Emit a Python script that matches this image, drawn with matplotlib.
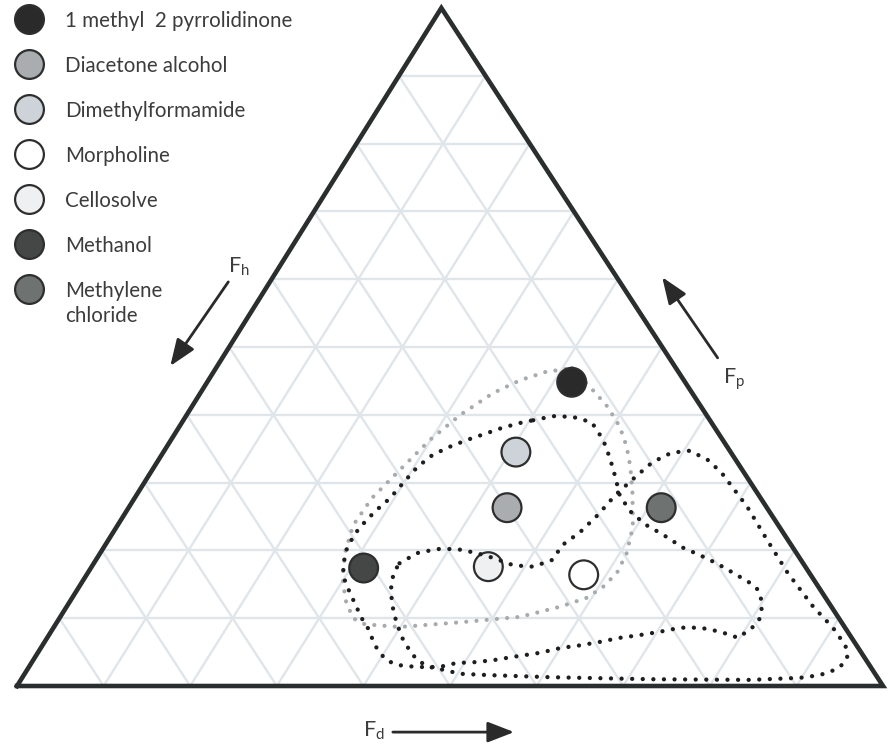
import numpy as np
import matplotlib.pyplot as plt

plt.rcParams['font.family'] = ['Lato', 'DejaVu Sans']
plt.rcParams['mathtext.fontset'] = 'custom'
plt.rcParams['mathtext.rm'] = 'Lato'

# solvents, fractional solubility parameters in percent (Fh = 100 - Fd - Fp)
solvents = ['1 methyl  2 pyrrolidinone', 'Diacetone alcohol', 'Dimethylformamide',
            'Morpholine', 'Cellosolve', 'Methanol', 'Methylene\nchloride']
fd = [42.1, 43.7, 40.7, 57.4, 45.8, 31.5, 61.5]
fp = [44.8, 26.3, 34.5, 16.4, 17.6, 17.4, 26.3]
fills = ['#2a2a2a', '#a9adaf', '#cdd3d8', '#ffffff', '#eef0f2', '#454747', '#6e7271']

# solubility regions drawn as dotted outlines, (Fd, Fp) pairs
region_light = [(41.1, 46.9), (45.4, 43.4), (48.0, 41.2), (50.9, 38.2), (53.1, 35.3),
                (55.0, 32.3), (57.1, 28.5), (59.6, 23.5), (60.8, 19.6), (61.1, 16.7),
                (60.5, 14.6), (59.4, 13.0), (57.0, 11.7), (53.1, 10.2), (46.6, 9.4),
                (39.9, 8.7), (35.7, 9.1), (33.9, 10.0), (31.7, 12.7), (29.7, 16.1),
                (28.2, 19.8), (27.2, 23.7), (27.4, 27.7), (28.6, 31.9), (29.9, 36.3),
                (31.6, 40.0), (33.8, 43.2), (36.0, 45.1), (38.3, 46.3)]

region_upper = [(40.4, 39.2), (42.4, 39.8), (44.7, 39.7), (47.3, 38.9), (49.9, 36.3),
                (52.0, 33.6), (54.0, 30.8), (55.9, 28.0), (58.5, 25.5), (61.1, 23.7),
                (63.7, 22.3), (66.9, 20.4), (69.4, 19.3), (71.9, 18.1), (74.5, 16.7),
                (77.2, 15.2), (78.6, 14.2), (80.1, 12.2), (80.9, 10.0), (80.7, 8.7),
                (79.8, 7.1), (77.3, 8.0), (74.7, 8.6), (72.4, 8.6), (70.3, 8.0),
                (68.2, 7.5), (66.1, 7.1), (64.1, 6.5), (62.1, 6.0), (60.0, 5.6),
                (58.0, 4.9), (55.2, 4.3), (53.1, 3.8), (51.0, 3.5), (49.1, 3.4),
                (47.4, 2.8), (44.8, 2.8), (42.4, 3.1), (40.8, 3.8), (39.5, 4.9),
                (38.4, 6.0), (36.2, 8.7), (34.9, 10.0), (32.6, 12.7), (30.4, 15.3),
                (29.0, 17.6), (28.2, 20.1), (28.0, 22.3), (28.2, 23.7), (28.7, 25.7),
                (29.5, 27.7), (29.9, 29.9), (30.4, 32.3), (31.3, 34.1), (32.7, 35.3),
                (34.2, 36.3), (36.0, 37.3), (37.4, 38.1), (39.1, 38.8)]

region_lower = [(35.3, 18.1), (36.6, 19.6), (38.6, 20.2), (40.9, 20.2), (43.5, 19.6),
                (45.7, 18.9), (48.6, 17.8), (51.0, 17.6), (52.7, 18.6), (52.8, 20.8),
                (53.9, 22.7), (54.7, 25.2), (55.3, 28.2), (56.4, 31.1), (57.2, 33.0),
                (58.7, 34.4), (60.7, 34.7), (63.5, 33.3), (66.0, 31.4), (68.7, 28.9),
                (71.4, 26.4), (76.1, 21.5), (80.8, 16.7), (86.2, 11.7), (90.0, 8.6),
                (92.7, 6.0), (93.7, 4.6), (93.9, 3.4), (93.3, 2.4), (91.9, 1.6),
                (89.8, 1.2), (84.2, 0.9), (72.6, 1.0), (60.9, 1.3), (53.8, 1.6),
                (50.3, 1.8), (48.0, 2.4), (46.3, 2.8), (44.5, 3.7), (43.0, 5.0),
                (41.0, 7.1), (39.2, 9.4), (37.3, 12.2), (36.1, 14.5), (35.3, 16.7)]

grid_steps = np.arange(10, 100, 10)

APEX = 0.49  # horizontal position of the Fp corner along the base


def to_xy(d, p):
    d = np.asarray(d, dtype=float)
    p = np.asarray(p, dtype=float)
    return d + APEX * p, p


def closed(region):
    pts = np.array(region + region[:1])
    return to_xy(pts[:, 0], pts[:, 1])


fig = plt.figure(figsize=(8.91, 7.48), dpi=100)
ax = fig.add_axes([0, 0, 1, 1])
ax.set_xlim(-1.963, 100.92)
ax.set_ylim(-9.145, 101.18)
ax.axis('off')

grid_kw = dict(color='#e0e5ea', lw=1.7, zorder=1, solid_capstyle='butt')
for f in grid_steps:
    ax.plot(*to_xy([0, 100 - f], [f, f]), **grid_kw)          # constant Fp
    ax.plot(*to_xy([f, f], [0, 100 - f]), **grid_kw)          # constant Fd
    ax.plot(*to_xy([100 - f, 0], [0, 100 - f]), **grid_kw)    # constant Fh

# triangle frame
ax.plot(*to_xy([0, 100, 0, 0], [0, 0, 100, 0]), color='#2a2e2e', lw=3.3,
        solid_joinstyle='miter', zorder=3)

dot = (0, (0.01, 2.45))
ax.plot(*closed(region_light), color='#a7abae', lw=3.0, ls=dot,
        dash_capstyle='round', zorder=4)

ax.scatter(*to_xy(fd, fp), s=430, c=fills, edgecolors='#2e2e2e',
           linewidths=1.6, zorder=5)

for region in (region_upper, region_lower):
    ax.plot(*closed(region), color='#1e1e1e', lw=3.1, ls=dot,
            dash_capstyle='round', zorder=6)

# legend column
line_gap = 25 / 6.78
for i, (name, col) in enumerate(zip(solvents, fills)):
    y = (686 - 19 - 45 * i) / 6.78
    ax.scatter(1.39, y, s=430, c=col, edgecolors='#2e2e2e', linewidths=1.6,
               clip_on=False, zorder=5)
    for j, part in enumerate(name.split('\n')):
        ax.text(5.54, y - j * line_gap, part, fontsize=14.8, color='#3c3c3c',
                va='center_baseline', ha='left')

# component arrows
arrow_kw = dict(arrowstyle='-|>,head_length=0.9,head_width=0.35', color='#2a2a2a',
                lw=2.0, mutation_scale=18, shrinkA=0, shrinkB=0)
ax.annotate('', xy=(17.7, 47.2), xytext=(24.4, 59.6), arrowprops=arrow_kw)
ax.annotate('', xy=(74.5, 60.3), xytext=(80.9, 48.4), arrowprops=arrow_kw)
ax.annotate('', xy=(57.4, -6.8), xytext=(43.4, -6.8), arrowprops=arrow_kw)
lab_kw = dict(fontsize=15.5, color='#3c3c3c', va='center')
ax.text(25.6, 61.8, r'F$_\mathrm{h}$', ha='center', **lab_kw)
ax.text(82.8, 45.2, r'F$_\mathrm{p}$', ha='center', **lab_kw)
ax.text(42.5, -6.6, r'F$_\mathrm{d}$', ha='right', **lab_kw)

fig.savefig('out.png', dpi=100)
